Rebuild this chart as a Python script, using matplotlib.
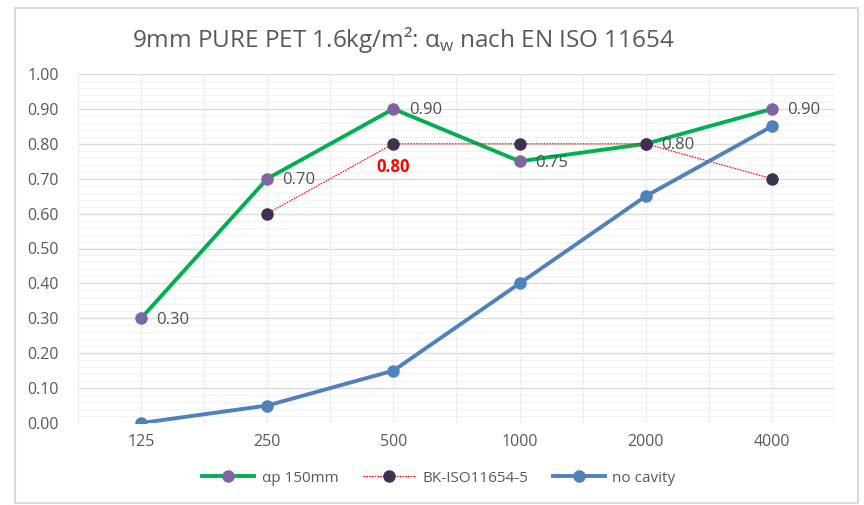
import numpy as np
import matplotlib
matplotlib.use("Agg")
import matplotlib.pyplot as plt
from matplotlib.patches import Rectangle

categories = ["125", "250", "500", "1000", "2000", "4000"]
alpha_p150 = [0.30, 0.70, 0.90, 0.75, 0.80, 0.90]
bk_iso = [np.nan, 0.60, 0.80, 0.80, 0.80, 0.70]
no_cavity = [0.00, 0.05, 0.15, 0.40, 0.65, 0.85]
alpha_labels = ["0.30", "0.70", "0.90", "0.75", "0.80", "0.90"]
bk_highlight_idx = 2
bk_highlight_label = "0.80"
y_ticks = [0.0, 0.1, 0.2, 0.3, 0.4, 0.5, 0.6, 0.7, 0.8, 0.9, 1.0]
series_names = ["αp 150mm", "BK-ISO11654-5", "no cavity"]
title = "9mm PURE PET 1.6kg/m²: α$_\\mathregular{w}$ nach EN ISO 11654"

plt.rcParams['font.family'] = ['Open Sans', 'DejaVu Sans']
gray = "#595959"

fig = plt.figure(figsize=(8.64, 5.05), dpi=100)
fig.patch.set_facecolor("white")
fig.patches.append(Rectangle((15/864, 1-503/505), (858-15)/864, (503-8)/505,
                             transform=fig.transFigure, fill=False,
                             edgecolor="#d9d9d9", linewidth=1.5))

ax = fig.add_axes([78/864, 1-423/505, (835-78)/864, (423-74)/505])
x = np.arange(len(categories))

# gridlines
for v in np.arange(0, 1.0001, 0.02):
    major = abs(round(v*10) - v*10) < 1e-6
    ax.axhline(v, color="#d9d9d9" if major else "#f2f2f2", lw=0.9 if major else 0.8, zorder=0)
for v in np.arange(-0.5, len(categories), 0.5):
    ax.axvline(v, color="#ececec", lw=0.8, zorder=0)

l1, = ax.plot(x, alpha_p150, color="#00B050", lw=2.8, marker="o", ms=8,
              mfc="#8064A2", mec="#8064A2", zorder=3, label=series_names[0])
l2, = ax.plot(x, bk_iso, color="#FF0000", lw=0.8, ls=(0, (1.5, 1.0)), marker="o", ms=8,
              mfc="#403151", mec="#403151", zorder=4, label=series_names[1])
l3, = ax.plot(x, no_cavity, color="#4F81BD", lw=2.8, marker="o", ms=8,
              mfc="#4F81BD", mec="#4F81BD", zorder=5, label=series_names[2])

for xi, yi, lab in zip(x, alpha_p150, alpha_labels):
    ax.annotate(lab, (xi, yi), xytext=(11, -1), textcoords="offset points",
                ha="left", va="center", color="#505050", fontsize=12, zorder=6)
ax.annotate(bk_highlight_label, (x[bk_highlight_idx], bk_iso[bk_highlight_idx]),
            xytext=(0, -17), textcoords="offset points", ha="center", va="center",
            color="#FF0000", fontsize=12, fontweight="bold", zorder=6)

ax.set_xlim(-0.5, len(categories)-0.5)
ax.set_ylim(0, 1.0)
ax.set_xticks(x)
ax.set_xticklabels(categories)
ax.set_yticks(y_ticks)
ax.set_yticklabels([f"{t:.2f}" for t in y_ticks])
ax.tick_params(axis="both", length=0, colors=gray, labelsize=11.5)
ax.tick_params(axis="y", pad=14)
ax.tick_params(axis="x", pad=8)
for s in ax.spines.values():
    s.set_visible(False)

fig.text(0.467, 1-40/505, title, ha="center", va="center", fontsize=17.5, color=gray)

leg = fig.legend(handles=[l1, l2, l3], loc="center", bbox_to_anchor=(0.508, 1-478/505),
                 ncol=3, frameon=False, fontsize=11, handlelength=3.4,
                 columnspacing=1.6, handletextpad=0.5)
for t in leg.get_texts():
    t.set_color(gray)

fig.savefig("out.png", dpi=100, facecolor="white")
